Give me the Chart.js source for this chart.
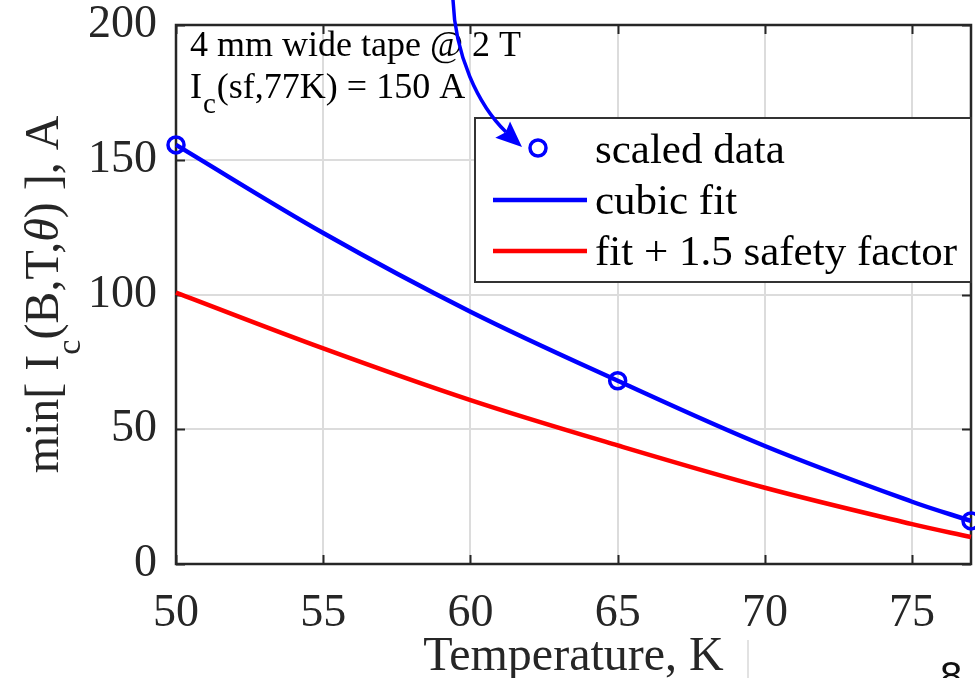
<!DOCTYPE html>
<html>
<head>
<meta charset="utf-8">
<script src="https://cdn.jsdelivr.net/npm/chart.js@4.4.1/dist/chart.umd.min.js"></script>
<style>
    html, body { margin: 0; padding: 0; background: #fff; }
    #wrap { width: 975px; height: 678px; position: relative; }
</style>
</head>
<body>
<div id="wrap"><canvas id="chart" width="975" height="678"></canvas></div>
<script>

// ==========================
// DATA
// ==========================

const fitTemps = [50, 55, 60, 65, 70, 75, 77];
const cubicFit = [155.5, 122.8, 93.6, 68.0, 43.8, 23.1, 16.0];
const safetyFit = [100.7, 80.0, 60.8, 44.0, 28.3, 14.8, 10.0];

const dataTemps = [50, 65, 77];
const scaledData = [155.5, 68.0, 16.0];

const xTicks = [50, 55, 60, 65, 70, 75];
const yTicks = [0, 50, 100, 150, 200];

const legendLabels = ["scaled data", "cubic fit", "fit + 1.5 safety factor"];


// ==========================
// STYLE
// ==========================

const SERIF = '"Liberation Serif", "Times New Roman", serif';
const INK = "#262626";
const BLUE = "#0000ff";
const RED = "#ff0000";
const GRID = "#dcdcdc";

const toPoints = (xs, ys) => xs.map((x, i) => ({ x: x, y: ys[i] }));

function noScalePadding(scale) {
    scale.paddingTop = 0;
    scale.paddingBottom = 0;
    scale.paddingLeft = 0;
    scale.paddingRight = 0;
}


// ==========================
// EXTRA DRAWING (box, legend, labels, arrow)
// ==========================

const extras = {
    id: "extras",

    beforeDatasetsDraw(chart) {
        const { ctx, chartArea: a, scales } = chart;
        ctx.save();

        // inside tick marks
        ctx.strokeStyle = INK;
        ctx.lineWidth = 2;
        const tl = 9;
        xTicks.forEach(v => {
            const px = Math.round(scales.x.getPixelForValue(v)) + 0.5;
            ctx.beginPath();
            ctx.moveTo(px, a.bottom); ctx.lineTo(px, a.bottom - tl);
            ctx.moveTo(px, a.top); ctx.lineTo(px, a.top + tl);
            ctx.stroke();
        });
        yTicks.forEach(v => {
            const py = Math.round(scales.y.getPixelForValue(v)) + 0.5;
            ctx.beginPath();
            ctx.moveTo(a.left, py); ctx.lineTo(a.left + tl, py);
            ctx.moveTo(a.right, py); ctx.lineTo(a.right - tl, py);
            ctx.stroke();
        });

        // axes box
        ctx.lineWidth = 2.5;
        ctx.strokeRect(a.left, a.top, a.right - a.left, a.bottom - a.top);
        ctx.restore();
    },

    afterDatasetsDraw(chart) {
        const { ctx, chartArea: a } = chart;
        ctx.save();
        ctx.fillStyle = "#000";
        ctx.textBaseline = "alphabetic";
        ctx.textAlign = "left";

        // annotation text, top-left
        ctx.font = "36px " + SERIF;
        ctx.fillText("4 mm wide tape @ 2 T", a.left + 14, a.top + 31);
        ctx.fillText("I", a.left + 14, a.top + 73);
        let w = ctx.measureText("I").width;
        ctx.font = "29px " + SERIF;
        ctx.fillText("c", a.left + 14 + w + 1, a.top + 88);
        const cw = ctx.measureText("c").width;
        ctx.font = "36px " + SERIF;
        ctx.fillText("(sf,77K) = 150 A", a.left + 14 + w + cw + 2, a.top + 73);

        // legend box
        const lx = 475, ly = 118, lw = a.right - 475, lh = 164;
        ctx.fillStyle = "#fff";
        ctx.fillRect(lx, ly, lw, lh);
        ctx.strokeStyle = "#333";
        ctx.lineWidth = 2;
        ctx.strokeRect(lx, ly, lw, lh);

        ctx.lineWidth = 3.5;
        ctx.strokeStyle = BLUE;
        ctx.beginPath();
        ctx.arc(538, 148, 8, 0, Math.PI * 2);
        ctx.stroke();

        ctx.lineWidth = 4.5;
        ctx.beginPath();
        ctx.moveTo(493, 200); ctx.lineTo(587, 200);
        ctx.stroke();
        ctx.strokeStyle = RED;
        ctx.beginPath();
        ctx.moveTo(493, 251); ctx.lineTo(587, 251);
        ctx.stroke();

        ctx.fillStyle = "#000";
        ctx.font = "43px " + SERIF;
        ctx.fillText(legendLabels[0], 595, 163);
        ctx.fillText(legendLabels[1], 595, 214);
        ctx.fillText(legendLabels[2], 595, 265);

        ctx.restore();
    },

    afterDraw(chart) {
        const { ctx, chartArea: a } = chart;
        ctx.save();

        // y axis title with subscript and italic theta
        const parts = [
            ["min[ I", "48px " + SERIF, 0],
            ["c", "34px " + SERIF, 22],
            ["(B,T,", "48px " + SERIF, 0],
            ["\u03b8", "italic 48px " + SERIF, 0],
            [") ], A", "48px " + SERIF, 0]
        ];
        let total = 0;
        parts.forEach(p => { ctx.font = p[1]; total += ctx.measureText(p[0]).width; });
        ctx.translate(58, (a.top + a.bottom) / 2);
        ctx.rotate(-Math.PI / 2);
        ctx.fillStyle = INK;
        ctx.textBaseline = "alphabetic";
        let x = -total / 2;
        parts.forEach(p => {
            ctx.font = p[1];
            ctx.fillText(p[0], x, p[2]);
            x += ctx.measureText(p[0]).width;
        });
        ctx.setTransform(1, 0, 0, 1, 0, 0);

        // x axis title
        ctx.font = "48px " + SERIF;
        ctx.textAlign = "center";
        ctx.fillStyle = INK;
        ctx.fillText("Temperature, K", (a.left + a.right) / 2, 670);

        // slide leftovers: shadow edge and page number
        ctx.strokeStyle = "#e2e2e2";
        ctx.lineWidth = 2;
        ctx.beginPath();
        ctx.moveTo(748, 640); ctx.lineTo(748, 678);
        ctx.stroke();

        ctx.font = "40px 'Liberation Sans', Arial, sans-serif";
        ctx.textAlign = "left";
        ctx.fillStyle = "#111";
        ctx.fillText("8", 940, 690);

        // blue callout arrow
        ctx.strokeStyle = BLUE;
        ctx.fillStyle = BLUE;
        ctx.lineWidth = 3.5;
        ctx.beginPath();
        ctx.moveTo(453, 0);
        ctx.bezierCurveTo(455, 55, 478, 105, 506, 132);
        ctx.stroke();

        const tip = { x: 522, y: 147 };
        const d = { x: 0.743, y: 0.669 };
        const hl = 26, hw = 11;
        const bx = tip.x - hl * d.x, by = tip.y - hl * d.y;
        ctx.beginPath();
        ctx.moveTo(tip.x, tip.y);
        ctx.lineTo(bx - hw * d.y, by + hw * d.x);
        ctx.lineTo(bx + 4 * d.x, by + 4 * d.y);
        ctx.lineTo(bx + hw * d.y, by - hw * d.x);
        ctx.closePath();
        ctx.fill();

        ctx.restore();
    }
};


// ==========================
// CHART
// ==========================

const ctx = document.getElementById("chart").getContext("2d");

new Chart(ctx, {
    type: "line",
    data: {
        datasets: [
            {
                label: legendLabels[0],
                data: toPoints(dataTemps, scaledData),
                showLine: false,
                borderColor: BLUE,
                backgroundColor: "rgba(0,0,0,0)",
                pointRadius: 8,
                pointBorderWidth: 3.5,
                pointBackgroundColor: "rgba(0,0,0,0)",
                pointBorderColor: BLUE,
                clip: false,
                order: 0
            },
            {
                label: legendLabels[1],
                data: toPoints(fitTemps, cubicFit),
                borderColor: BLUE,
                borderWidth: 4.5,
                pointRadius: 0,
                tension: 0.35,
                fill: false,
                clip: false,
                order: 1
            },
            {
                label: legendLabels[2],
                data: toPoints(fitTemps, safetyFit),
                borderColor: RED,
                borderWidth: 4.5,
                pointRadius: 0,
                tension: 0.35,
                fill: false,
                clip: false,
                order: 2
            }
        ]
    },
    options: {
        responsive: false,
        animation: false,
        events: [],
        layout: {
            autoPadding: false,
            padding: { left: 0, top: 25, right: 4, bottom: 0 }
        },
        plugins: {
            legend: { display: false },
            tooltip: { enabled: false }
        },
        scales: {
            x: {
                type: "linear",
                min: 50,
                max: 77,
                afterBuildTicks: scale => {
                    scale.ticks = xTicks.map(v => ({ value: v }));
                },
                afterFit: scale => {
                    scale.height = 114;
                    noScalePadding(scale);
                },
                grid: {
                    color: GRID,
                    lineWidth: 2,
                    drawTicks: false
                },
                border: { display: false },
                ticks: {
                    color: INK,
                    padding: 22,
                    maxRotation: 0,
                    font: { family: SERIF, size: 46 }
                }
            },
            y: {
                type: "linear",
                min: 0,
                max: 200,
                afterBuildTicks: scale => {
                    scale.ticks = yTicks.map(v => ({ value: v }));
                },
                afterFit: scale => {
                    scale.width = 176;
                    noScalePadding(scale);
                },
                grid: {
                    color: GRID,
                    lineWidth: 2,
                    drawTicks: false
                },
                border: { display: false },
                ticks: {
                    color: INK,
                    padding: 19,
                    font: { family: SERIF, size: 46 }
                }
            }
        }
    },
    plugins: [extras]
});
</script>
</body>
</html>
